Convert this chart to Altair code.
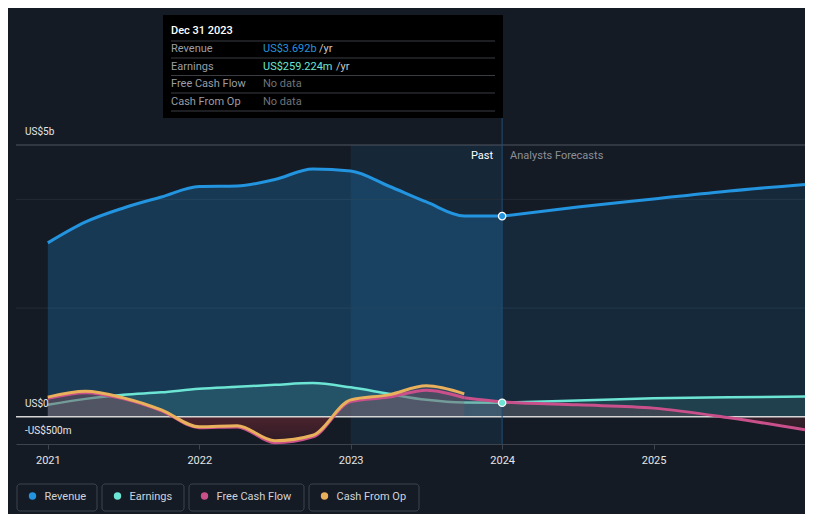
import altair as alt
import pandas as pd

# ---------------- data (US$ millions) ----------------
quarters = [2021.0, 2021.25, 2021.5, 2021.75, 2022.0, 2022.25, 2022.5, 2022.75,
            2023.0, 2023.25, 2023.5, 2023.75, 2024.0]
forecast_years = [2024.0, 2024.5, 2025.0, 2025.5, 2026.0]

revenue_past = [3199, 3585, 3842, 4044, 4237, 4246, 4366, 4559, 4522, 4246, 3952, 3695, 3692]
revenue_fc = [3692, 3860, 4007, 4154, 4274]

earnings_past = [221, 330, 404, 450, 515, 551, 588, 620, 542, 423, 312, 263, 259]
earnings_fc = [259, 300, 343, 360, 373]

cfo_t = quarters[:12]
cfo_past = [362, 469, 349, 129, -184, -165, -441, -340, 312, 404, 570, 423]

fcf_past_t = quarters[:12]
fcf_past = [340, 445, 330, 110, -200, -185, -478, -370, 280, 362, 490, 350]
fcf_fc_t = [2023.75, 2024.0, 2024.5, 2025.0, 2025.5, 2026.0]
fcf_fc = [350, 275, 220, 160, -18, -239]

x_ticks = [2021, 2022, 2023, 2024, 2025]
y_label_values = [5000, 0, -500]
y_label_texts = ["US$5b", "US$0", "-US$500m"]
grid_values = [2000, 4000]

series_names = ["Revenue", "Earnings", "Free Cash Flow", "Cash From Op"]
series_colors = ["#2394df", "#6ce5d4", "#c9508b", "#e9b15b"]

tooltip_date = "Dec 31 2023"
tooltip_values = ["US$3.692b", "US$259.224m", "No data", "No data"]
tooltip_value_colors = ["#2394df", "#6ce5d4", "#6f737a", "#6f737a"]
tooltip_suffix = ["/yr", "/yr", "", ""]

past_label = "Past"
forecast_label = "Analysts Forecasts"
now_year = 2024.0
highlight = [2023.0, 2024.0]

# ---------------- layout ----------------
W, H = 789, 299
FONT = "Roboto"
BG = "#151b25"

xs = alt.Scale(domain=[2020.79, 2026.0], nice=False, zero=False)
ys = alt.Scale(domain=[-500, 5000], nice=False, zero=False)
xaxis = alt.Axis(values=x_ticks, format="d", title=None, grid=False,
                 labelColor="#e6e6e6", labelFontSize=11, labelFont=FONT,
                 domainColor="#3d444e", tickColor="#3d444e", tickSize=5,
                 labelPadding=5, labelFlush=False)


def X(f):
    return alt.X(f, type="quantitative", scale=xs, axis=xaxis)


def Y(f):
    return alt.Y(f, type="quantitative", scale=ys, axis=None)


def frame(t, v):
    return pd.DataFrame({"t": t, "v": v, "z": [0] * len(t)})


rev_p = frame(quarters, revenue_past)
rev_f = frame(forecast_years, revenue_fc)
earn_p = frame(quarters, earnings_past)
earn_f = frame(forecast_years, earnings_fc)
cfo_df = frame(cfo_t, cfo_past)
fcf_p = frame(fcf_past_t, fcf_past)
fcf_f = frame(fcf_fc_t, fcf_fc)
fcf_all = frame(fcf_past_t + fcf_fc_t[1:], fcf_past + fcf_fc[1:])


def cash_gradient(vals, pos="#7a5560", neg="#7f2b35"):
    mx = max(max(vals), 0)
    mn = min(min(vals), 0)
    off = mx / (mx - mn)
    return alt.Gradient(
        gradient="linear", x1=0, x2=0, y1=0, y2=1,
        stops=[alt.GradientStop(color=pos, offset=0),
               alt.GradientStop(color=pos, offset=off),
               alt.GradientStop(color=neg, offset=off),
               alt.GradientStop(color="#4a1c26", offset=1)])


layers = []

# highlight band (last year of the past)
band = pd.DataFrame({"t": [highlight[0]], "t2": [highlight[1]]})
layers.append(alt.Chart(band).mark_rect(color="#2394df", opacity=0.1).encode(
    x=X("t"), x2="t2", y=alt.value(0), y2=alt.value(H)))

# grid lines
layers.append(alt.Chart(pd.DataFrame({"v": grid_values})).mark_rule(
    color="#232b36", strokeWidth=1).encode(y=Y("v")))
layers.append(alt.Chart(pd.DataFrame({"v": [y_label_values[0]]})).mark_rule(
    color="#4f5660", strokeWidth=1).encode(y=Y("v")))

# areas
layers.append(alt.Chart(rev_p).mark_area(interpolate="monotone", color="#2394df",
                                         opacity=0.25).encode(x=X("t"), y=Y("v"), y2="z"))
layers.append(alt.Chart(rev_f).mark_area(interpolate="monotone", color="#2394df",
                                         opacity=0.12).encode(x=X("t"), y=Y("v"), y2="z"))
layers.append(alt.Chart(earn_p).mark_area(interpolate="monotone", color="#6ce5d4",
                                          opacity=0.15).encode(x=X("t"), y=Y("v"), y2="z"))
layers.append(alt.Chart(earn_f).mark_area(interpolate="monotone", color="#6ce5d4",
                                          opacity=0.12).encode(x=X("t"), y=Y("v"), y2="z"))

# earnings line (below the cash-flow fills)
for d in (earn_p, earn_f):
    layers.append(alt.Chart(d).mark_line(interpolate="monotone", color=series_colors[1],
                                         strokeWidth=2.5).encode(x=X("t"), y=Y("v")))

layers.append(alt.Chart(fcf_all).mark_area(interpolate="monotone",
                                           color=cash_gradient(fcf_past + fcf_fc),
                                           opacity=0.3).encode(x=X("t"), y=Y("v"), y2="z"))
layers.append(alt.Chart(cfo_df).mark_area(interpolate="monotone",
                                          color=cash_gradient(cfo_past),
                                          opacity=0.3).encode(x=X("t"), y=Y("v"), y2="z"))

# zero line
layers.append(alt.Chart(pd.DataFrame({"v": [0]})).mark_rule(
    color="#d6d6d6", strokeWidth=1.5).encode(y=Y("v")))

# cash-flow lines
for d in (fcf_p, fcf_f):
    layers.append(alt.Chart(d).mark_line(interpolate="monotone", color=series_colors[2],
                                         strokeWidth=3).encode(x=X("t"), y=Y("v")))
layers.append(alt.Chart(cfo_df).mark_line(interpolate="monotone", color=series_colors[3],
                                          strokeWidth=3).encode(x=X("t"), y=Y("v")))

# revenue lines
for d in (rev_p, rev_f):
    layers.append(alt.Chart(d).mark_line(interpolate="monotone", color=series_colors[0],
                                         strokeWidth=3).encode(x=X("t"), y=Y("v")))

# "now" line
layers.append(alt.Chart(pd.DataFrame({"t": [now_year]})).mark_rule(
    color="#1f4f78", strokeWidth=1).encode(x=X("t"), y=alt.value(-27), y2=alt.value(H)))

# points at now
pts_r = pd.DataFrame({"t": [now_year], "v": [revenue_past[-1]]})
pts_e = pd.DataFrame({"t": [now_year], "v": [earnings_past[-1]]})
layers.append(alt.Chart(pts_r).mark_point(filled=True, size=55, fill=series_colors[0],
                                          stroke="white", strokeWidth=1.2, opacity=1)
              .encode(x=X("t"), y=Y("v")))
layers.append(alt.Chart(pts_e).mark_point(filled=True, size=55, fill=series_colors[1],
                                          stroke="white", strokeWidth=1.2, opacity=1)
              .encode(x=X("t"), y=Y("v")))

# y labels
ylab = pd.DataFrame({"v": y_label_values, "label": y_label_texts})
layers.append(alt.Chart(ylab).mark_text(align="left", baseline="middle", dy=-13,
                                        font=FONT, fontSize=10, color="#e6e6e6")
              .encode(x=alt.value(9), y=Y("v"), text="label:N"))

# past / forecast labels
lab = pd.DataFrame({"t": [now_year], "a": [past_label], "b": [forecast_label]})
layers.append(alt.Chart(lab).mark_text(align="right", baseline="middle", dx=-9,
                                       font=FONT, fontSize=11, color="#ffffff")
              .encode(x=X("t"), y=alt.value(11), text="a:N"))
layers.append(alt.Chart(lab).mark_text(align="left", baseline="middle", dx=8,
                                       font=FONT, fontSize=11, color="#8b9098")
              .encode(x=X("t"), y=alt.value(11), text="b:N"))

# tooltip box
layers.append(alt.Chart(pd.DataFrame({"a": [0]})).mark_rect(color="#000000").encode(
    x=alt.value(147), x2=alt.value(487), y=alt.value(-130), y2=alt.value(-27)))
layers.append(alt.Chart(pd.DataFrame({"a": [tooltip_date]})).mark_text(
    align="left", baseline="middle", font=FONT, fontSize=11, fontWeight=500,
    color="#ffffff").encode(x=alt.value(155), y=alt.value(-114), text="a:N"))
sep_y = [-104, -87, -69.5, -52, -34]
for sy in sep_y:
    layers.append(alt.Chart(pd.DataFrame({"a": [0]})).mark_rule(
        color="#3a3d42", strokeWidth=1).encode(
        x=alt.value(155), x2=alt.value(479), y=alt.value(sy)))
row_y = [-96, -78.5, -61, -43.5]
suffix_x = [303, 320, 0, 0]
for i, name in enumerate(series_names):
    row = pd.DataFrame({"n": [name], "val": [tooltip_values[i]], "s": [tooltip_suffix[i]]})
    layers.append(alt.Chart(row).mark_text(align="left", baseline="middle", font=FONT,
                                           fontSize=11, color="#9a9ea4")
                  .encode(x=alt.value(155), y=alt.value(row_y[i]), text="n:N"))
    layers.append(alt.Chart(row).mark_text(align="left", baseline="middle", font=FONT,
                                           fontSize=11, color=tooltip_value_colors[i])
                  .encode(x=alt.value(247), y=alt.value(row_y[i]), text="val:N"))
    if tooltip_suffix[i]:
        layers.append(alt.Chart(row).mark_text(align="left", baseline="middle", font=FONT,
                                               fontSize=11, color="#c8c8c8")
                      .encode(x=alt.value(suffix_x[i]), y=alt.value(row_y[i]), text="s:N"))

# legend
box_x = [(1, 81), (86, 168), (173, 288), (293, 403)]
for i, name in enumerate(series_names):
    x0, x1 = box_x[i]
    d = pd.DataFrame({"n": [name]})
    layers.append(alt.Chart(d).mark_rect(fillOpacity=0, stroke="#3d444e", strokeWidth=1,
                                         cornerRadius=3).encode(
        x=alt.value(x0), x2=alt.value(x1), y=alt.value(339), y2=alt.value(366)))
    layers.append(alt.Chart(d).mark_circle(size=55, color=series_colors[i], opacity=1).encode(
        x=alt.value(x0 + 15.5), y=alt.value(351)))
    layers.append(alt.Chart(d).mark_text(align="left", baseline="middle", font=FONT,
                                         fontSize=11, color="#d0d3d8").encode(
        x=alt.value(x0 + 27.5), y=alt.value(351.5), text="n:N"))

chart = alt.layer(*layers).properties(
    width=W, height=H,
    padding={"left": 8, "top": 137, "right": 0, "bottom": 70},
    autosize=alt.AutoSizeParams(type="none"),
).configure(background=BG).configure_view(strokeWidth=0)

chart.save("out.html", embed_options={"renderer": "svg", "actions": False})
